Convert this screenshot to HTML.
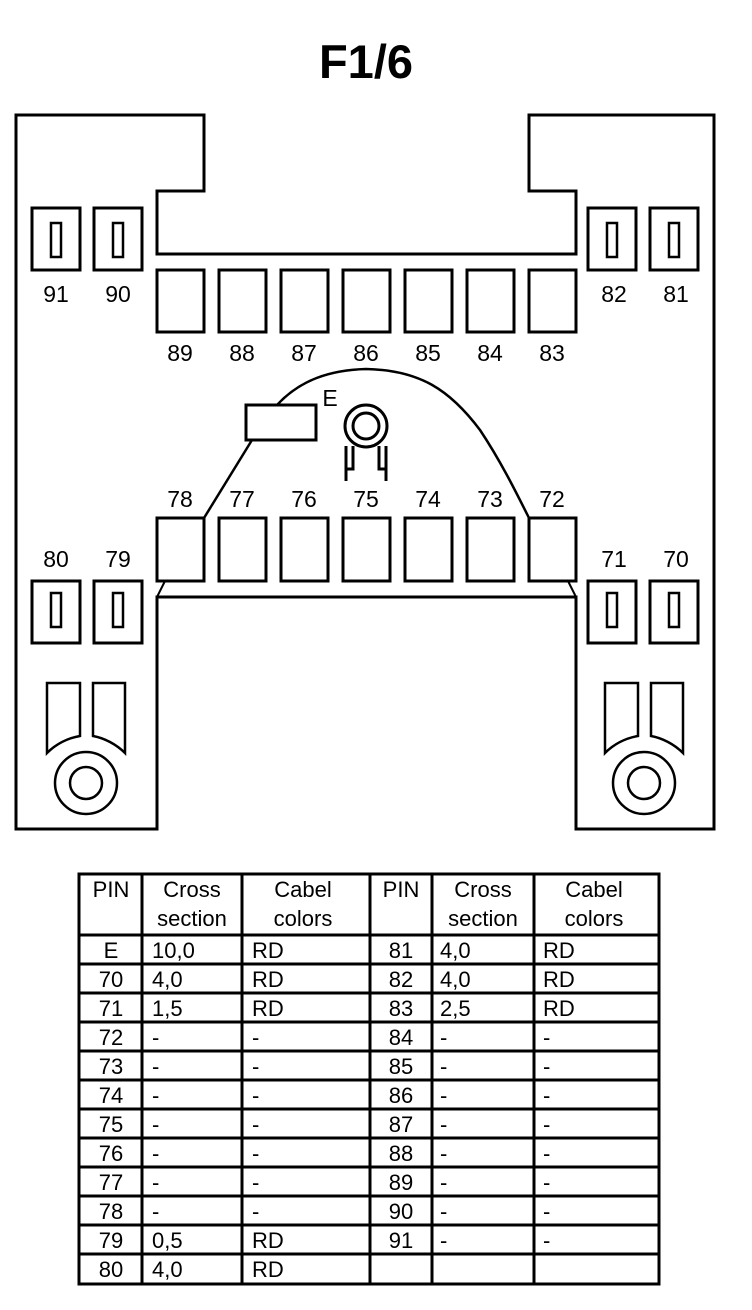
<!DOCTYPE html>
<html><head><meta charset="utf-8"><style>
html,body{margin:0;padding:0;background:#fff;}
svg{display:block;}
text{font-family:"Liberation Sans",Arial,sans-serif;fill:#000;}
</style></head><body>
<svg width="752" height="1310" viewBox="0 0 752 1310" xmlns="http://www.w3.org/2000/svg">
<text x="366" y="78" font-size="47" font-weight="bold" text-anchor="middle">F1/6</text>
<g fill="none" stroke="#000" stroke-width="3">
<path d="M16,115 H204 V191 H157 V254 H576 V191 H529 V115 H714 V829 H576 V597 H157 V829 H16 Z"/>
<g>
<rect x="32" y="208" width="48" height="62"/><rect x="51" y="223" width="10" height="34" stroke-width="2.5"/>
<rect x="94" y="208" width="48" height="62"/><rect x="113" y="223" width="10" height="34" stroke-width="2.5"/>
<rect x="588" y="208" width="48" height="62"/><rect x="607" y="223" width="10" height="34" stroke-width="2.5"/>
<rect x="650" y="208" width="48" height="62"/><rect x="669" y="223" width="10" height="34" stroke-width="2.5"/>
<rect x="32" y="581" width="48" height="62"/><rect x="51" y="593" width="10" height="34" stroke-width="2.5"/>
<rect x="94" y="581" width="48" height="62"/><rect x="113" y="593" width="10" height="34" stroke-width="2.5"/>
<rect x="588" y="581" width="48" height="62"/><rect x="607" y="593" width="10" height="34" stroke-width="2.5"/>
<rect x="650" y="581" width="48" height="62"/><rect x="669" y="593" width="10" height="34" stroke-width="2.5"/>
</g>
<rect x="157" y="270" width="47" height="62"/><rect x="219" y="270" width="47" height="62"/><rect x="281" y="270" width="47" height="62"/><rect x="343" y="270" width="47" height="62"/><rect x="405" y="270" width="47" height="62"/><rect x="467" y="270" width="47" height="62"/><rect x="529" y="270" width="47" height="62"/>
<rect x="157" y="518" width="47" height="63"/><rect x="219" y="518" width="47" height="63"/><rect x="281" y="518" width="47" height="63"/><rect x="343" y="518" width="47" height="63"/><rect x="405" y="518" width="47" height="63"/><rect x="467" y="518" width="47" height="63"/><rect x="529" y="518" width="47" height="63"/>
<path d="M157,597 L165,581 M576,597 L568,581" stroke-width="2"/>
<rect x="246" y="405" width="70" height="35"/>
<path d="M204,518 L252,440" stroke-width="2.5"/>
<path d="M277,405 C300,380 330,370 366,369 C420,370 450,390 480,430 C500,460 515,490 529,518" stroke-width="2.5"/>
<circle cx="366" cy="426" r="21" stroke-width="3"/>
<circle cx="366" cy="426" r="13" stroke-width="3"/>
<path d="M346,481 V446 M386,481 V446 M353,446 V469 H346 M379,446 V469 H386" stroke-width="3"/>
<path d="M47,683 H80 V736 C68,738 56,744 47,753 Z" stroke-width="2.5"/>
<path d="M93,683 H125 V753 C116,744 104,738 93,736 Z" stroke-width="2.5"/>
<circle cx="86" cy="783" r="31" stroke-width="2.5"/>
<circle cx="86" cy="783" r="16" stroke-width="2.5"/>
<path d="M605,683 H638 V736 C626,738 614,744 605,753 Z" stroke-width="2.5"/>
<path d="M651,683 H683 V753 C674,744 662,738 651,736 Z" stroke-width="2.5"/>
<circle cx="644" cy="783" r="31" stroke-width="2.5"/>
<circle cx="644" cy="783" r="16" stroke-width="2.5"/>
</g>
<g font-size="23" text-anchor="middle">
<text x="56" y="302">91</text><text x="118" y="302">90</text><text x="614" y="302">82</text><text x="676" y="302">81</text>
<text x="180" y="361">89</text><text x="242" y="361">88</text><text x="304" y="361">87</text><text x="366" y="361">86</text><text x="428" y="361">85</text><text x="490" y="361">84</text><text x="552" y="361">83</text>
<text x="180" y="507">78</text><text x="242" y="507">77</text><text x="304" y="507">76</text><text x="366" y="507">75</text><text x="428" y="507">74</text><text x="490" y="507">73</text><text x="552" y="507">72</text>
<text x="56" y="567">80</text><text x="118" y="567">79</text><text x="614" y="567">71</text><text x="676" y="567">70</text>
<text x="330" y="406">E</text>
</g>
<g stroke="#000" fill="none" stroke-width="3">
<rect x="79" y="874" width="580" height="410"/>
<path d="M142,874 V1284 M242,874 V1284 M370,874 V1284 M432,874 V1284 M534,874 V1284"/>
<path d="M79,935 H659 M79,964 H659 M79,993 H659 M79,1022 H659 M79,1051 H659 M79,1080 H659 M79,1109 H659 M79,1138 H659 M79,1167 H659 M79,1196 H659 M79,1225 H659 M79,1254 H659"/>
</g>
<g font-size="22">
<text x="111" y="897" text-anchor="middle">PIN</text>
<text x="192" y="897" text-anchor="middle">Cross</text><text x="192" y="926" text-anchor="middle">section</text>
<text x="303" y="897" text-anchor="middle">Cabel</text><text x="303" y="926" text-anchor="middle">colors</text>
<text x="401" y="897" text-anchor="middle">PIN</text>
<text x="483" y="897" text-anchor="middle">Cross</text><text x="483" y="926" text-anchor="middle">section</text>
<text x="594" y="897" text-anchor="middle">Cabel</text><text x="594" y="926" text-anchor="middle">colors</text>
</g>
<g font-size="22">
<g text-anchor="middle">
<text x="111" y="958">E</text><text x="111" y="987">70</text><text x="111" y="1016">71</text><text x="111" y="1045">72</text><text x="111" y="1074">73</text><text x="111" y="1103">74</text><text x="111" y="1132">75</text><text x="111" y="1161">76</text><text x="111" y="1190">77</text><text x="111" y="1219">78</text><text x="111" y="1248">79</text><text x="111" y="1277">80</text>
<text x="401" y="958">81</text><text x="401" y="987">82</text><text x="401" y="1016">83</text><text x="401" y="1045">84</text><text x="401" y="1074">85</text><text x="401" y="1103">86</text><text x="401" y="1132">87</text><text x="401" y="1161">88</text><text x="401" y="1190">89</text><text x="401" y="1219">90</text><text x="401" y="1248">91</text>
</g>
<text x="152" y="958">10,0</text><text x="152" y="987">4,0</text><text x="152" y="1016">1,5</text><text x="152" y="1045">-</text><text x="152" y="1074">-</text><text x="152" y="1103">-</text><text x="152" y="1132">-</text><text x="152" y="1161">-</text><text x="152" y="1190">-</text><text x="152" y="1219">-</text><text x="152" y="1248">0,5</text><text x="152" y="1277">4,0</text>
<text x="252" y="958">RD</text><text x="252" y="987">RD</text><text x="252" y="1016">RD</text><text x="252" y="1045">-</text><text x="252" y="1074">-</text><text x="252" y="1103">-</text><text x="252" y="1132">-</text><text x="252" y="1161">-</text><text x="252" y="1190">-</text><text x="252" y="1219">-</text><text x="252" y="1248">RD</text><text x="252" y="1277">RD</text>
<text x="440" y="958">4,0</text><text x="440" y="987">4,0</text><text x="440" y="1016">2,5</text><text x="440" y="1045">-</text><text x="440" y="1074">-</text><text x="440" y="1103">-</text><text x="440" y="1132">-</text><text x="440" y="1161">-</text><text x="440" y="1190">-</text><text x="440" y="1219">-</text><text x="440" y="1248">-</text>
<text x="543" y="958">RD</text><text x="543" y="987">RD</text><text x="543" y="1016">RD</text><text x="543" y="1045">-</text><text x="543" y="1074">-</text><text x="543" y="1103">-</text><text x="543" y="1132">-</text><text x="543" y="1161">-</text><text x="543" y="1190">-</text><text x="543" y="1219">-</text><text x="543" y="1248">-</text>
</g>
</svg>
</body></html>
